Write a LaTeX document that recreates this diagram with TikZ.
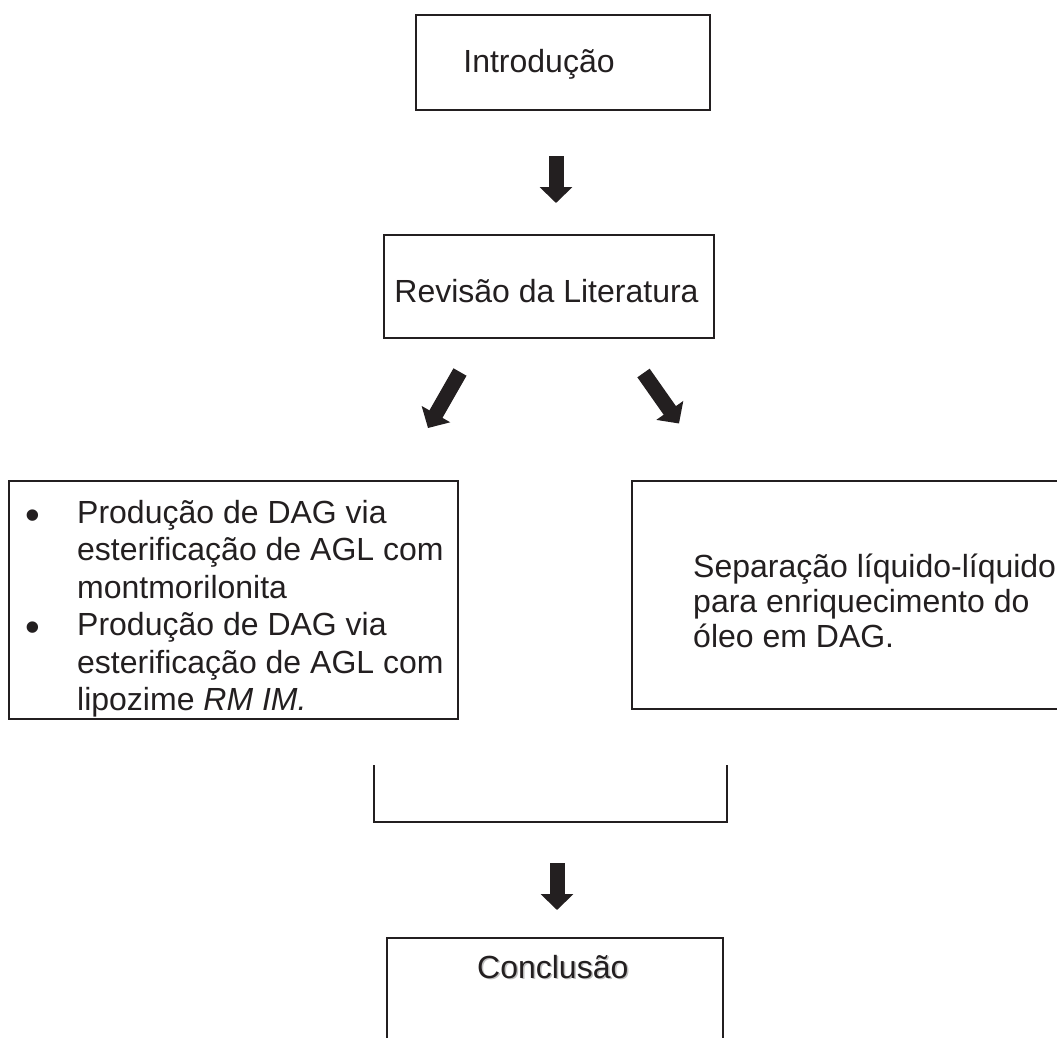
\documentclass[tikz,border=0pt]{standalone}
\usepackage{fontspec}
\setmainfont{Liberation Sans}
\usetikzlibrary{arrows.meta}
\definecolor{ink}{RGB}{35,31,32}
\tikzset{
  box/.style={draw=ink, line width=2.5pt, inner sep=0pt},
  frame/.style={draw=ink, line width=2.5pt},
  txt/.style={text=ink, inner sep=0pt, font=\fontsize{32}{37.5}\selectfont},
  bul/.style={text=ink, inner sep=0pt, font=\fontsize{42}{42}\selectfont},
  fatarrow/.style={draw=ink, line width=15pt, -{Triangle[width=32pt,length=16pt]}},
}
\begin{document}
\begin{tikzpicture}[x=1pt,y=-1pt]
\useasboundingbox (0,0) rectangle (1057,1037);
% boxes
\node[box, minimum width=294pt, minimum height=95pt] (intro) at (563,62.5) {};
\node[box, minimum width=330pt, minimum height=103pt] (rev) at (549,286.5) {};
\node[box, minimum width=449pt, minimum height=238pt] (left) at (233.5,600) {};
\draw[frame] (1070,481) -| (632,709) -- (1070,709);
\coordinate (right) at (845,595);
\draw[frame] (374,765) |- (727,822) -- (727,765);
\draw[frame] (387,1045) |- (723,938) -- (723,1045);
% texts
\node[txt, anchor=base] (tintro) at (539,72) {Introdução};
\node[txt, anchor=base] (trev) at (546.5,302) {Revisão da Literatura};
\node[bul, anchor=base] (b1) at (33,529) {•};
\node[txt, anchor=base west] (l1) at (77,523) {Produção de DAG via};
\node[txt, anchor=base west] (l2) at (77,560.5) {esterificação de AGL com};
\node[txt, anchor=base west] (l3) at (77,598) {montmorilonita};
\node[bul, anchor=base] (b2) at (33,641.5) {•};
\node[txt, anchor=base west] (l4) at (77,635.5) {Produção de DAG via};
\node[txt, anchor=base west] (l5) at (77,673) {esterificação de AGL com};
\node[txt, anchor=base west] (l6) at (77,710.5) {lipozime \textit{RM IM.}};
\node[txt, anchor=base west] (r1) at (693,577) {Separação líquido-líquido};
\node[txt, anchor=base west] (r2) at (693,612) {para enriquecimento do};
\node[txt, anchor=base west] (r3) at (693,647) {óleo em DAG.};
\node[txt, anchor=base west, text=black!25] (tconcs) at (478.5,979.5) {Conclusão};
\node[txt, anchor=base west] (tconc) at (477,978) {Conclusão};
% arrows
\coordinate (a1s) at (556,156);
\coordinate (a1e) at (556,203);
\coordinate (a2s) at (460,372);
\coordinate (a2e) at (428,428);
\coordinate (a3s) at (643.5,373);
\coordinate (a3e) at (679,423.5);
\coordinate (a4s) at (557,863);
\coordinate (a4e) at (557,910);
\draw[fatarrow] (a1s) -- (a1e);
\draw[fatarrow] (a2s) -- (a2e);
\draw[fatarrow] (a3s) -- (a3e);
\draw[fatarrow] (a4s) -- (a4e);
\end{tikzpicture}
\end{document}
